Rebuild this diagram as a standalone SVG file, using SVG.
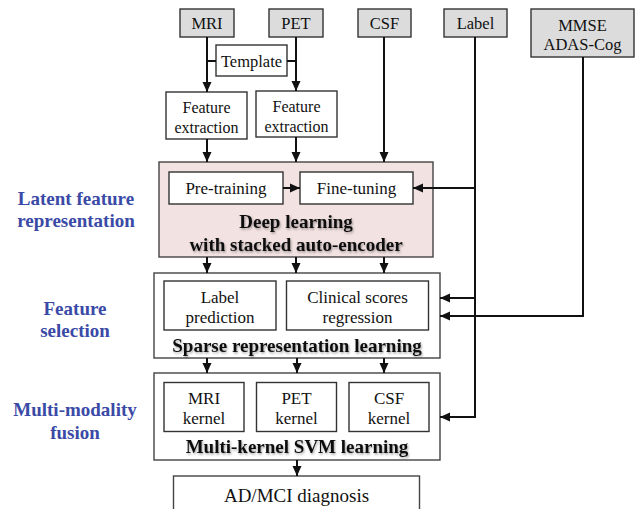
<svg xmlns="http://www.w3.org/2000/svg" width="638" height="509" viewBox="0 0 638 509">
<defs>
<marker id="ah" markerUnits="userSpaceOnUse" markerWidth="10" markerHeight="10" viewBox="0 0 10 10" refX="10" refY="5" orient="auto">
<path d="M0,0.5 L10,5 L0,9.5 z" fill="#111"/>
</marker>
<filter id="sh" x="-10%" y="-30%" width="120%" height="160%">
<feDropShadow dx="1" dy="1.5" stdDeviation="1" flood-color="#000" flood-opacity="0.35"/>
</filter>
</defs>

<g id="side-labels" font-family="'Liberation Serif', serif" font-size="19" font-weight="bold" fill="#3a4aa6" text-anchor="middle">
<text x="76" y="204.5">Latent feature</text>
<text x="76" y="226.5">representation</text>
<text x="75" y="314.5">Feature</text>
<text x="75" y="336.5">selection</text>
<text x="75" y="415.5">Multi-modality</text>
<text x="75" y="438.5">fusion</text>
</g>

<g id="mri" font-family="'Liberation Serif', serif" font-size="16.5" fill="#111" text-anchor="middle"><rect x="180" y="9" width="54" height="28" fill="#dcdcdc" stroke="#333" stroke-width="1.4"/><text x="207" y="29">MRI</text></g>
<g id="pet" font-family="'Liberation Serif', serif" font-size="16.5" fill="#111" text-anchor="middle"><rect x="269" y="9" width="54" height="28" fill="#dcdcdc" stroke="#333" stroke-width="1.4"/><text x="296" y="29">PET</text></g>
<g id="csf" font-family="'Liberation Serif', serif" font-size="16.5" fill="#111" text-anchor="middle"><rect x="358" y="9" width="53" height="28" fill="#dcdcdc" stroke="#333" stroke-width="1.4"/><text x="384.5" y="29">CSF</text></g>
<g id="label" font-family="'Liberation Serif', serif" font-size="16.5" fill="#111" text-anchor="middle"><rect x="444" y="9" width="63" height="28" fill="#dcdcdc" stroke="#333" stroke-width="1.4"/><text x="475.5" y="29">Label</text></g>
<g id="mmse" font-family="'Liberation Serif', serif" font-size="16.5" fill="#111" text-anchor="middle"><rect x="531" y="9" width="103" height="48" fill="#dcdcdc" stroke="#333" stroke-width="1.4"/><text x="582.5" y="31">MMSE</text><text x="582.5" y="50">ADAS-Cog</text></g>

<g id="template" font-family="'Liberation Serif', serif" font-size="16.5" fill="#111" text-anchor="middle"><rect x="216" y="45" width="71" height="31" fill="#fff" stroke="#333" stroke-width="1.4"/><text x="251.5" y="66.5">Template</text></g>

<g id="fe1" font-family="'Liberation Serif', serif" font-size="16" fill="#111" text-anchor="middle"><rect x="166" y="92" width="81" height="47" fill="#fff" stroke="#333" stroke-width="1.4"/><text x="206.5" y="112.5">Feature</text><text x="206.5" y="132.5">extraction</text></g>
<g id="fe2" font-family="'Liberation Serif', serif" font-size="16" fill="#111" text-anchor="middle"><rect x="256" y="91" width="81" height="46" fill="#fff" stroke="#333" stroke-width="1.4"/><text x="296.5" y="111.5">Feature</text><text x="296.5" y="131.5">extraction</text></g>

<g id="deep-learning" font-family="'Liberation Serif', serif" font-size="19" font-weight="bold" fill="#111" text-anchor="middle">
<rect x="159" y="162" width="274" height="95" fill="#f3e2e2" stroke="#444" stroke-width="1.4"/>
<text x="296" y="227.5" filter="url(#sh)">Deep learning</text>
<text x="296" y="250.5" filter="url(#sh)">with stacked auto-encoder</text>
</g>
<g id="pretraining" font-family="'Liberation Serif', serif" font-size="17" fill="#111" text-anchor="middle"><rect x="169" y="172" width="114" height="32" fill="#fff" stroke="#333" stroke-width="1.4"/><text x="226" y="194">Pre-training</text></g>
<g id="finetuning" font-family="'Liberation Serif', serif" font-size="17" fill="#111" text-anchor="middle"><rect x="300" y="172" width="113" height="32" fill="#fff" stroke="#333" stroke-width="1.4"/><text x="356.5" y="194">Fine-tuning</text></g>

<g id="sparse" font-family="'Liberation Serif', serif" font-size="19" font-weight="bold" fill="#111" text-anchor="middle">
<rect x="154" y="273" width="286" height="85" fill="#fff" stroke="#444" stroke-width="1.4"/>
<text x="297" y="351.5" filter="url(#sh)">Sparse representation learning</text>
</g>
<g id="label-prediction" font-family="'Liberation Serif', serif" font-size="17" fill="#111" text-anchor="middle"><rect x="164" y="281" width="112" height="49" fill="#fff" stroke="#333" stroke-width="1.4"/><text x="220" y="303">Label</text><text x="220" y="323">prediction</text></g>
<g id="clinical" font-family="'Liberation Serif', serif" font-size="17" fill="#111" text-anchor="middle"><rect x="286.5" y="281" width="142" height="49" fill="#fff" stroke="#333" stroke-width="1.4"/><text x="357.5" y="303">Clinical scores</text><text x="357.5" y="323">regression</text></g>

<g id="multikernel" font-family="'Liberation Serif', serif" font-size="19" font-weight="bold" fill="#111" text-anchor="middle">
<rect x="154" y="373" width="286" height="87" fill="#fff" stroke="#444" stroke-width="1.4"/>
<text x="297" y="452.5" filter="url(#sh)">Multi-kernel SVM learning</text>
</g>
<g id="mri-kernel" font-family="'Liberation Serif', serif" font-size="17" fill="#111" text-anchor="middle"><rect x="164" y="382.5" width="80" height="49" fill="#fff" stroke="#333" stroke-width="1.4"/><text x="204" y="404">MRI</text><text x="204" y="424">kernel</text></g>
<g id="pet-kernel" font-family="'Liberation Serif', serif" font-size="17" fill="#111" text-anchor="middle"><rect x="256.5" y="382.5" width="80" height="49" fill="#fff" stroke="#333" stroke-width="1.4"/><text x="296.5" y="404">PET</text><text x="296.5" y="424">kernel</text></g>
<g id="csf-kernel" font-family="'Liberation Serif', serif" font-size="17" fill="#111" text-anchor="middle"><rect x="349" y="382.5" width="80" height="49" fill="#fff" stroke="#333" stroke-width="1.4"/><text x="389" y="404">CSF</text><text x="389" y="424">kernel</text></g>

<g id="diagnosis" font-family="'Liberation Serif', serif" font-size="19" fill="#111" text-anchor="middle"><rect x="173.5" y="476" width="246" height="40" fill="#fff" stroke="#444" stroke-width="1.4"/><text x="296.5" y="501.5">AD/MCI diagnosis</text></g>

<g id="connectors" fill="none" stroke="#111" stroke-width="2">
<path marker-end="url(#ah)" d="M207,37 V92"/>
<path marker-end="url(#ah)" d="M296,37 V91"/>
<path d="M207,61 H216 M287,61 H296"/>
<path marker-end="url(#ah)" d="M207,139 V162"/>
<path marker-end="url(#ah)" d="M296,137 V162"/>
<path marker-end="url(#ah)" d="M384,37 V162"/>
<path marker-end="url(#ah)" d="M283,188 H300"/>
<path marker-end="url(#ah)" d="M475,37 V417 H440"/>
<path marker-end="url(#ah)" d="M475,188 H413"/>
<path marker-end="url(#ah)" d="M475,298 H440"/>
<path marker-end="url(#ah)" d="M583,57 V316 H440"/>
<path marker-end="url(#ah)" d="M207,257 V273"/>
<path marker-end="url(#ah)" d="M296,257 V273"/>
<path marker-end="url(#ah)" d="M384,257 V273"/>
<path marker-end="url(#ah)" d="M207,358 V373"/>
<path marker-end="url(#ah)" d="M297,358 V373"/>
<path marker-end="url(#ah)" d="M384,358 V373"/>
<path marker-end="url(#ah)" d="M297,460 V476"/>
</g>
</svg>
